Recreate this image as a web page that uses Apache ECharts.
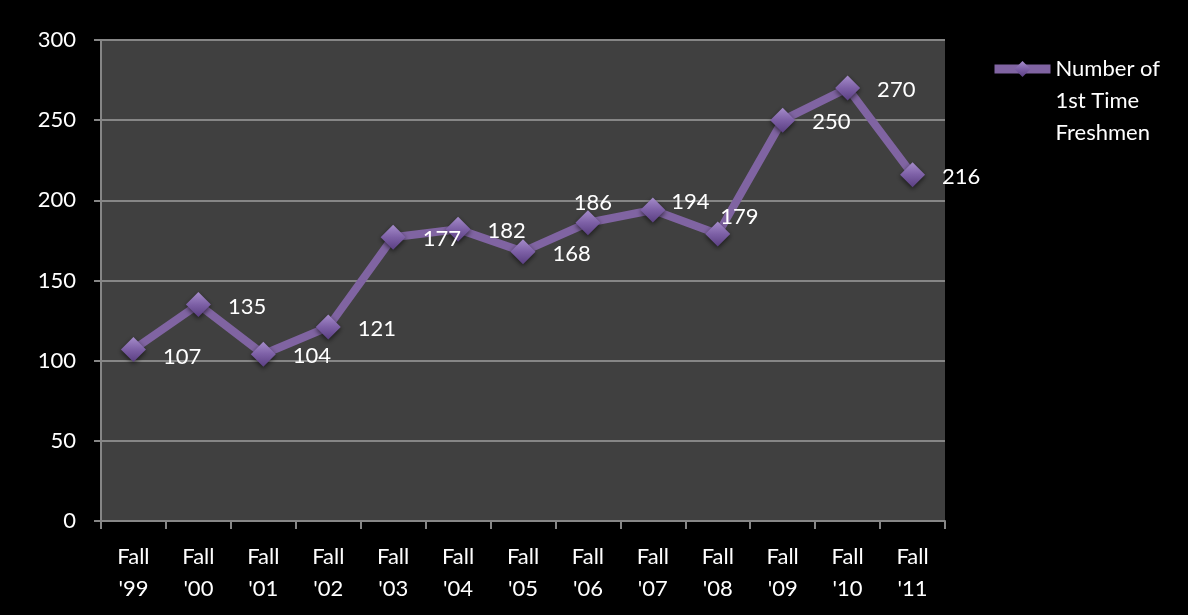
<!DOCTYPE html>
<html>
<head>
<meta charset="utf-8">
<script src="https://cdn.jsdelivr.net/npm/echarts@6/dist/echarts.min.js"></script>
<style>
  html, body { margin: 0; padding: 0; background: #000; }
  #chart { width: 1188px; height: 615px; }
</style>
</head>
<body>
<div id="chart"></div>
<script>
const categories = ["Fall\n'99", "Fall\n'00", "Fall\n'01", "Fall\n'02", "Fall\n'03", "Fall\n'04", "Fall\n'05",
  "Fall\n'06", "Fall\n'07", "Fall\n'08", "Fall\n'09", "Fall\n'10", "Fall\n'11"];
const freshmen = [107, 135, 104, 121, 177, 182, 168, 186, 194, 179, 250, 270, 216];
const seriesName = "Number of\n1st Time\nFreshmen";

// a few labels sit a bit off the default spot, like in the original
const labelTweaks = {
  0: { offset: [0, 7] },
  7: { position: "top", distance: 4, offset: [5, 8] },
  8: { offset: [-11, -8] },
  9: { offset: [-27, -17] }
};

const purple = "#8064a2";
const font = "Lato, 'Open Sans', sans-serif";

const chart = echarts.init(document.getElementById("chart"));

const points = freshmen.map((v, i) => {
  const item = { value: v };
  if (labelTweaks[i]) item.label = labelTweaks[i];
  return item;
});

chart.setOption({
  backgroundColor: "#000",
  animation: false,
  textStyle: { fontFamily: font },
  grid: {
    left: 101,
    top: 40,
    right: 243,
    bottom: 94,
    show: true,
    backgroundColor: "#404040",
    borderWidth: 0
  },
  legend: {
    left: 985,
    top: -16,
    itemWidth: 56,
    itemHeight: 20,
    itemGap: 0,
    lineStyle: { width: 9 },
    // blank first line pushes the text block down so the icon sits on "Number of"
    formatter: (name) => "{gap| }\n" + name,
    textStyle: {
      color: "#fff",
      fontSize: 22,
      lineHeight: 32,
      fontFamily: font,
      rich: {
        gap: { lineHeight: 64, fontSize: 10 }
      }
    }
  },
  xAxis: {
    type: "category",
    data: categories,
    axisLine: { lineStyle: { color: "#868686", width: 2 } },
    axisTick: { show: true, length: 8, lineStyle: { color: "#868686", width: 2 } },
    axisLabel: { color: "#fff", fontSize: 22, lineHeight: 32, margin: 20, fontFamily: font }
  },
  yAxis: {
    type: "value",
    min: 0,
    max: 300,
    interval: 50,
    axisLine: { show: true, lineStyle: { color: "#868686", width: 2 } },
    axisTick: { show: true, length: 7, lineStyle: { color: "#868686", width: 2 } },
    splitLine: { lineStyle: { color: "#868686", width: 2 } },
    axisLabel: { color: "#fff", fontSize: 22, margin: 25, fontFamily: font }
  },
  series: [
    {
      name: seriesName,
      type: "line",
      data: points,
      symbol: "diamond",
      symbolSize: 25,
      lineStyle: { color: purple, width: 8 },
      itemStyle: {
        color: new echarts.graphic.LinearGradient(0, 0, 0, 1, [
          { offset: 0, color: "#a58cca" },
          { offset: 0.5, color: "#7d60a6" },
          { offset: 1, color: "#5a3f82" }
        ]),
        shadowColor: "rgba(0,0,0,0.6)",
        shadowBlur: 5,
        shadowOffsetY: 2
      },
      label: {
        show: true,
        position: "right",
        distance: 17,
        offset: [0, 2],
        color: "#fff",
        fontSize: 22,
        fontFamily: font
      }
    }
  ]
});
</script>
</body>
</html>
